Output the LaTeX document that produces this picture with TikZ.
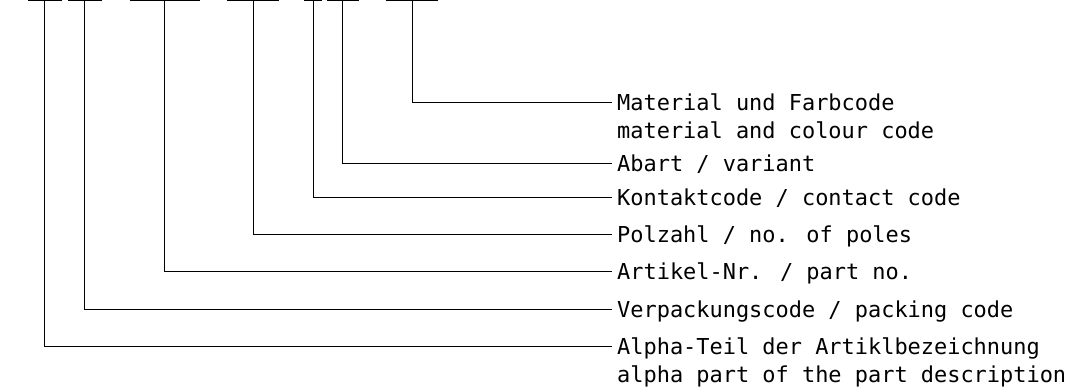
\documentclass[tikz,border=0pt]{standalone}
\usepackage{fontspec}
\newfontfamily\isofont{DejaVu Sans Mono}
\begin{document}
\begin{tikzpicture}[x=0.025cm,y=-0.025cm,line width=0.7pt,
	code node/.style={anchor=base west,align=left,font=\isofont\fontsize{15.6pt}{19.9pt}\selectfont}]
	\useasboundingbox (0,0) rectangle (1077,391);
	% bars over the code digits
	\foreach \a/\m/\b/\n in {28/44/62/1, 68/84/102/2, 130/164/200/3, 227/253/279/4, 304/313/322/5, 327/342/359/6, 386/412/438/7}{
		\draw (\a,0.5) -- (\b,0.5);
		\coordinate (p\n) at (\m,0.5);
	}

	% two-line labels sit on the baseline of their second line
	\node[code node] at (612,138) (mat) {Material und Farbcode\\material and colour code};
	\node[code node] at (612,171) (abart) {Abart / variant};
	\node[code node] at (612,205) (kont) {Kontaktcode / contact code};
	\node[code node] at (612,242) (pol) {Polzahl / no. of poles};
	\node[code node] at (612,279) (art) {Artikel-Nr. / part no.};
	\node[code node] at (612,317) (verp) {Verpackungscode / packing code};
	\node[code node] at (612,382) (alpha) {Alpha-Teil der Artiklbezeichnung\\alpha part of the part description};

	\draw (p7) |- ([yshift=0.9cm]mat.base west);
	\draw (p6) |- ([yshift=0.2cm]abart.base west);
	\draw (p5) |- ([yshift=0.2cm]kont.base west);
	\draw (p4) |- ([yshift=0.2cm]pol.base west);
	\draw (p3) |- ([yshift=0.2cm]art.base west);
	\draw (p2) |- ([yshift=0.2cm]verp.base west);
	\draw (p1) |- ([yshift=0.9cm]alpha.base west);
\end{tikzpicture}
\end{document}
